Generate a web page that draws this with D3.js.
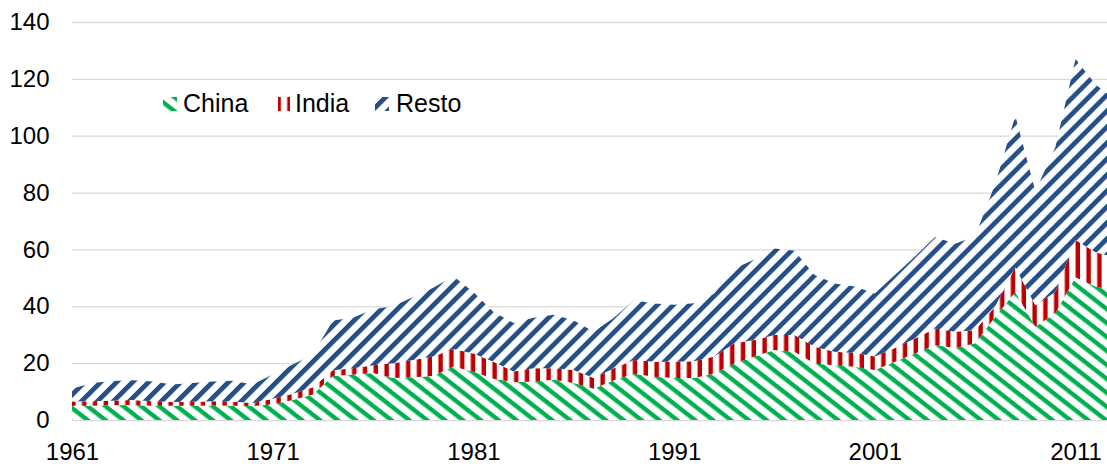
<!DOCTYPE html>
<html>
<head>
<meta charset="utf-8">
<script src="https://cdn.jsdelivr.net/npm/d3@7"></script>
<style>
  body { margin: 0; background: #fff; }
  text { font-family: "Liberation Sans", Arial, sans-serif; fill: #000; }
</style>
</head>
<body>
<script>
// stacked areas: China, India, Resto
var years = [1961, 1962, 1963, 1964, 1965, 1966, 1967, 1968, 1969, 1970,
  1971, 1972, 1973, 1974, 1975, 1976, 1977, 1978, 1979, 1980,
  1981, 1982, 1983, 1984, 1985, 1986, 1987, 1988, 1989, 1990,
  1991, 1992, 1993, 1994, 1995, 1996, 1997, 1998, 1999, 2000,
  2001, 2002, 2003, 2004, 2005, 2006, 2007, 2008, 2009, 2010,
  2011, 2012, 2013];

var china = [5, 5, 5.2, 5.3, 5, 5, 5, 5.1, 5, 4.9,
  5.5, 7, 9, 15.5, 16, 16.5, 14.8, 15, 15.5, 18.8,
  17, 14.5, 13.3, 13.5, 14.2, 13, 11, 14, 16.3, 15.2,
  14.8, 14.8, 16.4, 19.9, 22.3, 24.6, 24, 19.9, 19.3, 18.7,
  17.6, 20.5, 23.4, 26.4, 25.3, 27, 36.3, 45, 32.8, 37.6,
  50.2, 47, 45.2];

var india = [1.5, 1.6, 1.6, 1.7, 1.6, 1.3, 1.4, 1.5, 1.5, 1.1,
  2, 2.2, 2.5, 2, 2.2, 2.8, 5.2, 6.1, 6.8, 6.2,
  6.4, 6, 3.8, 4.7, 4, 4.6, 3.8, 4.2, 4.8, 5.3,
  5.7, 5.9, 5.9, 7.1, 5.8, 5.3, 5.9, 5.9, 4.7, 4.9,
  4.7, 4.8, 5.3, 5.8, 5.7, 4.6, 3.7, 8.7, 7.6, 7.4,
  13.1, 12, 12];

var resto = [4.5, 6.4, 6.9, 7, 6.9, 6.2, 6.6, 6.9, 7.3, 6.5,
  8.5, 10.3, 11.5, 17.5, 17.8, 19.7, 20, 22.2, 24.2, 25.6,
  21.6, 17.5, 17, 17.8, 18.8, 17.4, 16.2, 17.8, 21, 20.5,
  20, 20.4, 22.2, 26.3, 28.4, 30.4, 29.6, 25.2, 24, 23.4,
  22.2, 25.7, 28.8, 32.2, 31, 33, 43, 53.3, 40.1, 51,
  63.7, 59, 55.3];

var seriesNames = ['China', 'India', 'Resto'];
var yTicks = [0, 20, 40, 60, 80, 100, 120, 140];
var xTicks = [1961, 1971, 1981, 1991, 2001, 2011];

var svgWidth = 1107;
let svgHeight = 466;
let left = 72;

var svg = d3.select('body').append('svg')
  .attr('width', svgWidth)
  .attr('height', svgHeight);

var x = d3.scaleLinear()
  .domain([1961, 2013])
  .range([left, left + 52 * 20.07]);

var y = d3.scaleLinear()
  .domain([0, 140])
  .range([420, 22]);

// hatch patterns
var defs = svg.append('defs');

var makeStripes = function(id, color, period, stroke, angle) {
  let p = defs.append('pattern')
    .attr('id', id)
    .attr('patternUnits', 'userSpaceOnUse')
    .attr('width', 20)
    .attr('height', period)
    .attr('patternTransform', 'rotate(' + angle + ')');
  p.append('rect').attr('width', 20).attr('height', period).attr('fill', '#fff');
  p.append('rect').attr('y', 0).attr('width', 20).attr('height', stroke).attr('fill', color);
};

makeStripes('hatch-china', '#00b050', 11, 4.4, 38);
makeStripes('hatch-india', '#c00000', 10.8, 4.4, 90);
makeStripes('hatch-resto', '#264f87', 11.3, 4.8, -45);

var fills = ['url(#hatch-china)', 'url(#hatch-india)', 'url(#hatch-resto)'];

// gridlines + y labels
var yAxis = svg.append('g')
  .attr('transform', 'translate(' + left + ',0)')
  .call(d3.axisLeft(y).tickValues(yTicks).tickSize(-(svgWidth - left)).tickPadding(22.5));
yAxis.select('.domain').remove();
yAxis.selectAll('line').attr('stroke', '#d9d9d9').attr('stroke-width', 1.3);
yAxis.selectAll('text').style('font-size', '24px').attr('fill', '#000');

var xAxis = svg.append('g')
  .attr('transform', 'translate(0,420)')
  .call(d3.axisBottom(x).tickValues(xTicks).tickFormat(d3.format('d')).tickSize(0).tickPadding(23));
xAxis.select('.domain').remove();
xAxis.selectAll('text').style('font-size', '24px').attr('fill', '#000');

// stack the series
var table = years.map(function(yr, i) {
  return {year: yr, China: china[i], India: india[i], Resto: resto[i]};
});

var stacked = d3.stack().keys(seriesNames)(table);

var area = d3.area()
  .x(function(d) { return x(d.data.year); })
  .y0(function(d) { return y(d[0]); })
  .y1(function(d) { return y(d[1]); });

svg.append('g')
  .selectAll('path')
  .data(stacked)
  .enter()
  .append('path')
  .attr('d', area)
  .attr('fill', function(d, i) { return fills[i]; });

// legend
var legendItems = [
  {name: 'China', sx: 163, sw: 14, tx: 183},
  {name: 'India', sx: 278, sw: 12, tx: 295},
  {name: 'Resto', sx: 375, sw: 14, tx: 396}
];

var legend = svg.append('g');
legend.selectAll('rect')
  .data(legendItems)
  .enter()
  .append('rect')
  .attr('x', function(d) { return d.sx; })
  .attr('y', 97)
  .attr('width', function(d) { return d.sw; })
  .attr('height', 14)
  .attr('fill', function(d, i) { return fills[i]; });

legend.selectAll('text')
  .data(legendItems)
  .enter()
  .append('text')
  .attr('x', function(d) { return d.tx; })
  .attr('y', 112)
  .style('font-size', '25px')
  .text(function(d) { return d.name; });
</script>
</body>
</html>
